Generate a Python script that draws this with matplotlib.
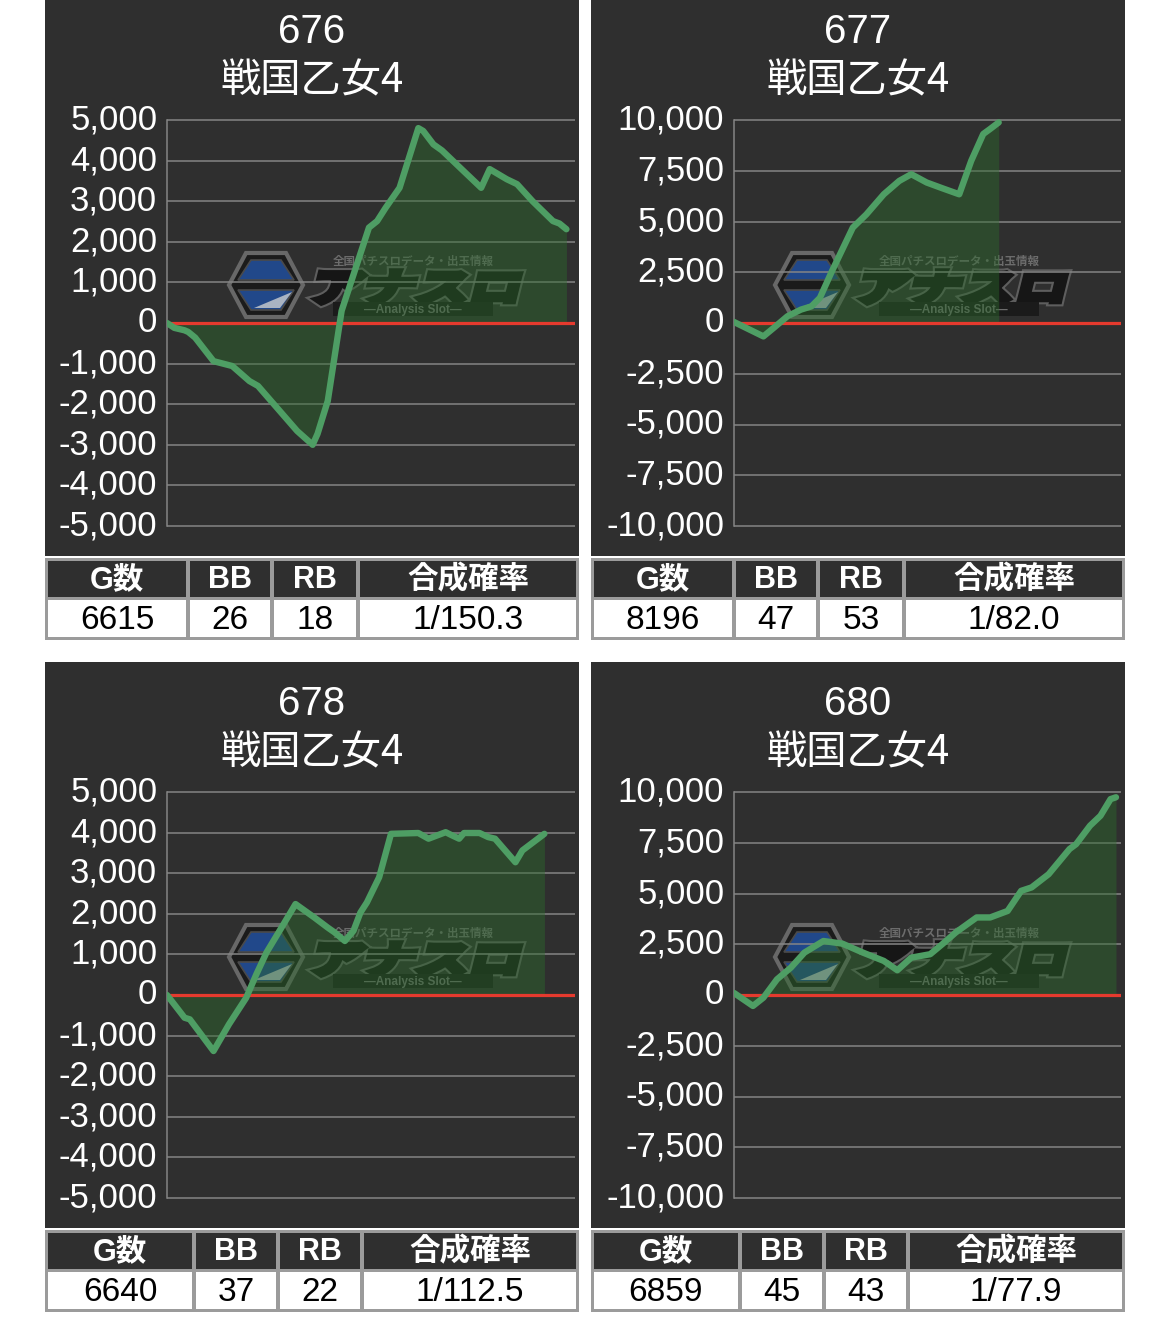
import matplotlib
matplotlib.use("Agg")
import matplotlib.pyplot as plt
from matplotlib.patches import Rectangle, Polygon, PathPatch
from matplotlib.textpath import TextPath
from matplotlib.font_manager import FontProperties
from matplotlib.transforms import Affine2D

# ---------------- data ----------------
machine_ids = ["676", "677", "678", "680"]
machine_name = "戦国乙女4"
table_headers = ["G数", "BB", "RB", "合成確率"]
games = ["6615", "8196", "6640", "6859"]
bb_counts = ["26", "47", "37", "45"]
rb_counts = ["18", "53", "22", "43"]
combined_prob = ["1/150.3", "1/82.0", "1/112.5", "1/77.9"]

ticks_5k = [5000, 4000, 3000, 2000, 1000, 0, -1000, -2000, -3000, -4000, -5000]
ticks_10k = [10000, 7500, 5000, 2500, 0, -2500, -5000, -7500, -10000]

# x = progress across the chart (% of width), y = coin difference
m676_x = [0, 1.8, 4.3, 5.2, 6.9, 11.4, 16.0, 20.2, 22.3, 31.9, 35.7, 36.9, 39.4, 42.8,
          49.5, 51.5, 53.6, 57.0, 61.6, 62.8, 65.3, 67.4, 77.0, 79.1, 83.3, 85.8, 89.6,
          94.6, 96.2, 97.9]
m676_y = [0, -120, -180, -220, -360, -940, -1060, -1430, -1550, -2660, -3000, -2730, -1920, 300,
          2350, 2510, 2840, 3330, 4800, 4730, 4400, 4250, 3330, 3790, 3540, 3420, 3000,
          2510, 2450, 2310]

m677_x = [0, 7.6, 10.2, 13.8, 17.3, 20.0, 22.2, 25.3, 30.7, 34.2, 38.7, 42.7, 45.8, 49.8,
          53.8, 58.2, 61.3, 64.4, 66.2, 68.4]
m677_y = [50, -660, -250, 330, 660, 820, 1240, 2550, 4700, 5350, 6340, 7000, 7330, 6920,
          6640, 6340, 7990, 9310, 9560, 9880]

m678_x = [0, 4.3, 5.6, 11.4, 15.2, 19.4, 21.9, 24.4, 28.6, 31.5, 36.1, 39.4, 41.1, 43.6,
          45.7, 47.4, 49.0, 52.0, 54.9, 61.6, 64.1, 68.3, 69.9, 71.6, 72.8, 76.6, 78.7,
          80.4, 85.4, 87.1, 92.5]
m678_y = [0, -560, -600, -1380, -720, -70, 510, 1050, 1750, 2240, 1910, 1660, 1540, 1330,
          1580, 2030, 2280, 2900, 3970, 3990, 3850, 4010, 3930, 3850, 3990, 3990, 3890,
          3850, 3270, 3560, 3970]

m680_x = [0, 4.9, 7.6, 11.1, 14.7, 18.2, 23.1, 28.0, 33.3, 38.7, 42.2, 45.8, 50.7, 53.8,
          57.3, 62.7, 66.2, 70.7, 74.2, 76.9, 81.3, 86.7, 88.4, 92.0, 94.7, 97.3, 98.7]
m680_y = [100, -540, -130, 770, 1350, 2090, 2660, 2530, 2090, 1680, 1220, 1840, 2010, 2500,
          3080, 3820, 3820, 4140, 5130, 5300, 5950, 7190, 7430, 8340, 8830, 9650, 9740]

series_x = [m676_x, m677_x, m678_x, m680_x]
series_y = [m676_y, m677_y, m678_y, m680_y]
series_ticks = [ticks_5k, ticks_10k, ticks_5k, ticks_10k]

# ---------------- style / layout ----------------
W, H = 1170, 1321
LATIN = ["Liberation Sans", "Noto Sans CJK JP", "DejaVu Sans"]
CJK = ["Noto Sans CJK JP", "DejaVu Sans"]
BG = "#2f2f2f"
GRID = "#858585"
GREEN = "#4e9e64"
FILL = "#2c6a2c"
RED = "#e53a2e"
BORDER = "#9b9b9b"

panel_origin = [(45, 0), (591, 0), (45, 672), (591, 672)]
axes_x = [(167, 575), (734, 1121), (167, 575), (734, 1121)]
table_cols = [[0, 143, 227, 313, 534], [0, 143, 227, 313, 534],
              [0, 149, 233, 317, 534], [0, 149, 233, 317, 534]]
PW, PH = 534, 556


def frect(x0, y0, x1, y1):
    return [x0 / W, 1 - y1 / H, (x1 - x0) / W, (y1 - y0) / H]


fig = plt.figure(figsize=(W / 100, H / 100), dpi=100)
fig.patch.set_facecolor("white")


def watermark(ax):
    cx, cy = 221, 285
    outer = [(cx - 20, cy - 32), (cx + 20, cy - 32), (cx + 37, cy), (cx + 20, cy + 32),
             (cx - 20, cy + 32), (cx - 37, cy)]
    ax.add_patch(Polygon(outer, closed=True, fc="#1b1b1b", ec="#686868", lw=3.0, zorder=1))
    up = [(cx - 15, cy - 25), (cx + 15, cy - 25), (cx + 28, cy - 5), (cx - 28, cy - 5)]
    ax.add_patch(Polygon(up, closed=True, fc="#21488a", ec="#4a4a4a", lw=1.2, zorder=2))
    lo = [(cx - 28, cy + 5), (cx + 28, cy + 5), (cx + 15, cy + 25), (cx - 15, cy + 25)]
    ax.add_patch(Polygon(lo, closed=True, fc="#21488a", ec="#4a4a4a", lw=1.2, zorder=2))
    tri = [(cx - 12, cy + 23), (cx + 26, cy + 7), (cx + 14, cy + 23)]
    ax.add_patch(Polygon(tri, closed=True, fc="#a9b3c2", ec="none", zorder=3))
    # big katakana logo, slanted and heavy
    tp = TextPath((0, 0), "アナスロ", size=100,
                  prop=FontProperties(family="Noto Sans CJK JP", weight="bold"))
    ext = tp.get_extents()
    sx = 200 / ext.width
    sy = 32 / ext.height
    tr = (Affine2D().translate(-(ext.x0 + ext.width / 2), -(ext.y0 + ext.height / 2))
          .scale(sx, -sy).skew_deg(-14, 0).translate(372, 287))
    path = tr.transform_path(tp)
    ax.add_patch(PathPatch(path, fc="#5e5e5e", ec="#5e5e5e", lw=7, zorder=2,
                           joinstyle="miter"))
    ax.add_patch(PathPatch(path, fc="#161616", ec="#161616", lw=4, zorder=2,
                           joinstyle="miter"))
    ax.text(368, 261, "全国パチスロデータ・出玉情報", ha="center", va="center",
            fontsize=8.3, color="#6c6c6c", family=CJK, weight="bold", zorder=2)
    ax.add_patch(Rectangle((288, 302), 160, 14, fc="#1b1b1b", ec="none", zorder=2))
    ax.text(368, 309.5, "—Analysis Slot—", ha="center", va="center",
            fontsize=8.5, color="#6c6c6c", family=LATIN, weight="bold", zorder=3)


for i in range(4):
    px, py = panel_origin[i]
    # panel background (extends 10 px above the content origin)
    bg = fig.add_axes(frect(px, py - 10, px + PW, py + PH))
    bg.set_xlim(0, PW)
    bg.set_ylim(PH, -10)
    bg.axis("off")
    bg.add_patch(Rectangle((0, -10), PW, PH + 10, fc=BG, ec="none", zorder=0))
    bg.text(267, 32, machine_ids[i], ha="center", va="center", fontsize=29,
            color="white", family=LATIN)
    bg.text(267, 81, machine_name, ha="center", va="center", fontsize=29,
            color="white", family=CJK)
    watermark(bg)

    # plot axes
    ticks = series_ticks[i]
    top = max(ticks)
    pad = top * 0.01
    ax0, ax1 = axes_x[i]
    ax = fig.add_axes(frect(ax0, py + 120 - 406 * 0.005, ax1, py + 526 + 406 * 0.005))
    ax.set_facecolor("none")
    ax.set_zorder(2)
    ax.set_xlim(0, 100)
    ax.set_ylim(-top - pad, top + pad)
    ax.set_yticks(ticks)
    ax.set_yticklabels([f"{t:,}" for t in ticks], family=LATIN, fontsize=25, color="white")
    for lab in ax.get_yticklabels():
        lab.set_va("center")
    ax.tick_params(axis="y", length=0, pad=7)
    ax.set_xticks([])
    for s in ["top", "right", "bottom"]:
        ax.spines[s].set_visible(False)
    ax.spines["left"].set_color(GRID)
    ax.spines["left"].set_linewidth(1.1)
    ax.spines["left"].set_bounds(-top, top)
    ax.yaxis.grid(True, color=GRID, lw=1.1)
    ax.set_axisbelow(True)

    x = series_x[i]
    y = series_y[i]
    ax.fill_between(x, y, 0, color=FILL, alpha=0.45, lw=0, zorder=2)
    ax.axhline(0, color=RED, lw=2.3, zorder=3)
    ax.plot(x, y, color=GREEN, lw=4.6, zorder=4, solid_joinstyle="round",
            solid_capstyle="round")

    # table
    tb = fig.add_axes(frect(px, py + 558, px + PW, py + 640))
    tb.set_xlim(0, PW)
    tb.set_ylim(82, 0)
    tb.axis("off")
    tb.add_patch(Rectangle((0, 0), PW, 82, fc=BORDER, ec="none"))
    cols = table_cols[i]
    values = [games[i], bb_counts[i], rb_counts[i], combined_prob[i]]
    for c in range(4):
        c0 = cols[c] + (3 if c == 0 else 2)
        c1 = cols[c + 1] - (3 if c == 3 else 2)
        tb.add_patch(Rectangle((c0, 3), c1 - c0, 36, fc=BG, ec="none"))
        tb.add_patch(Rectangle((c0, 42), c1 - c0, 37, fc="white", ec="none"))
        xc = (c0 + c1) / 2
        tb.text(xc, 22.5, table_headers[c], ha="center", va="center", fontsize=22,
                color="white", weight="bold", family=LATIN)
        tb.text(xc, 62.5, values[c], ha="center", va="center", fontsize=24,
                color="black", family=LATIN)

fig.savefig("out.png", dpi=100, facecolor="white")
